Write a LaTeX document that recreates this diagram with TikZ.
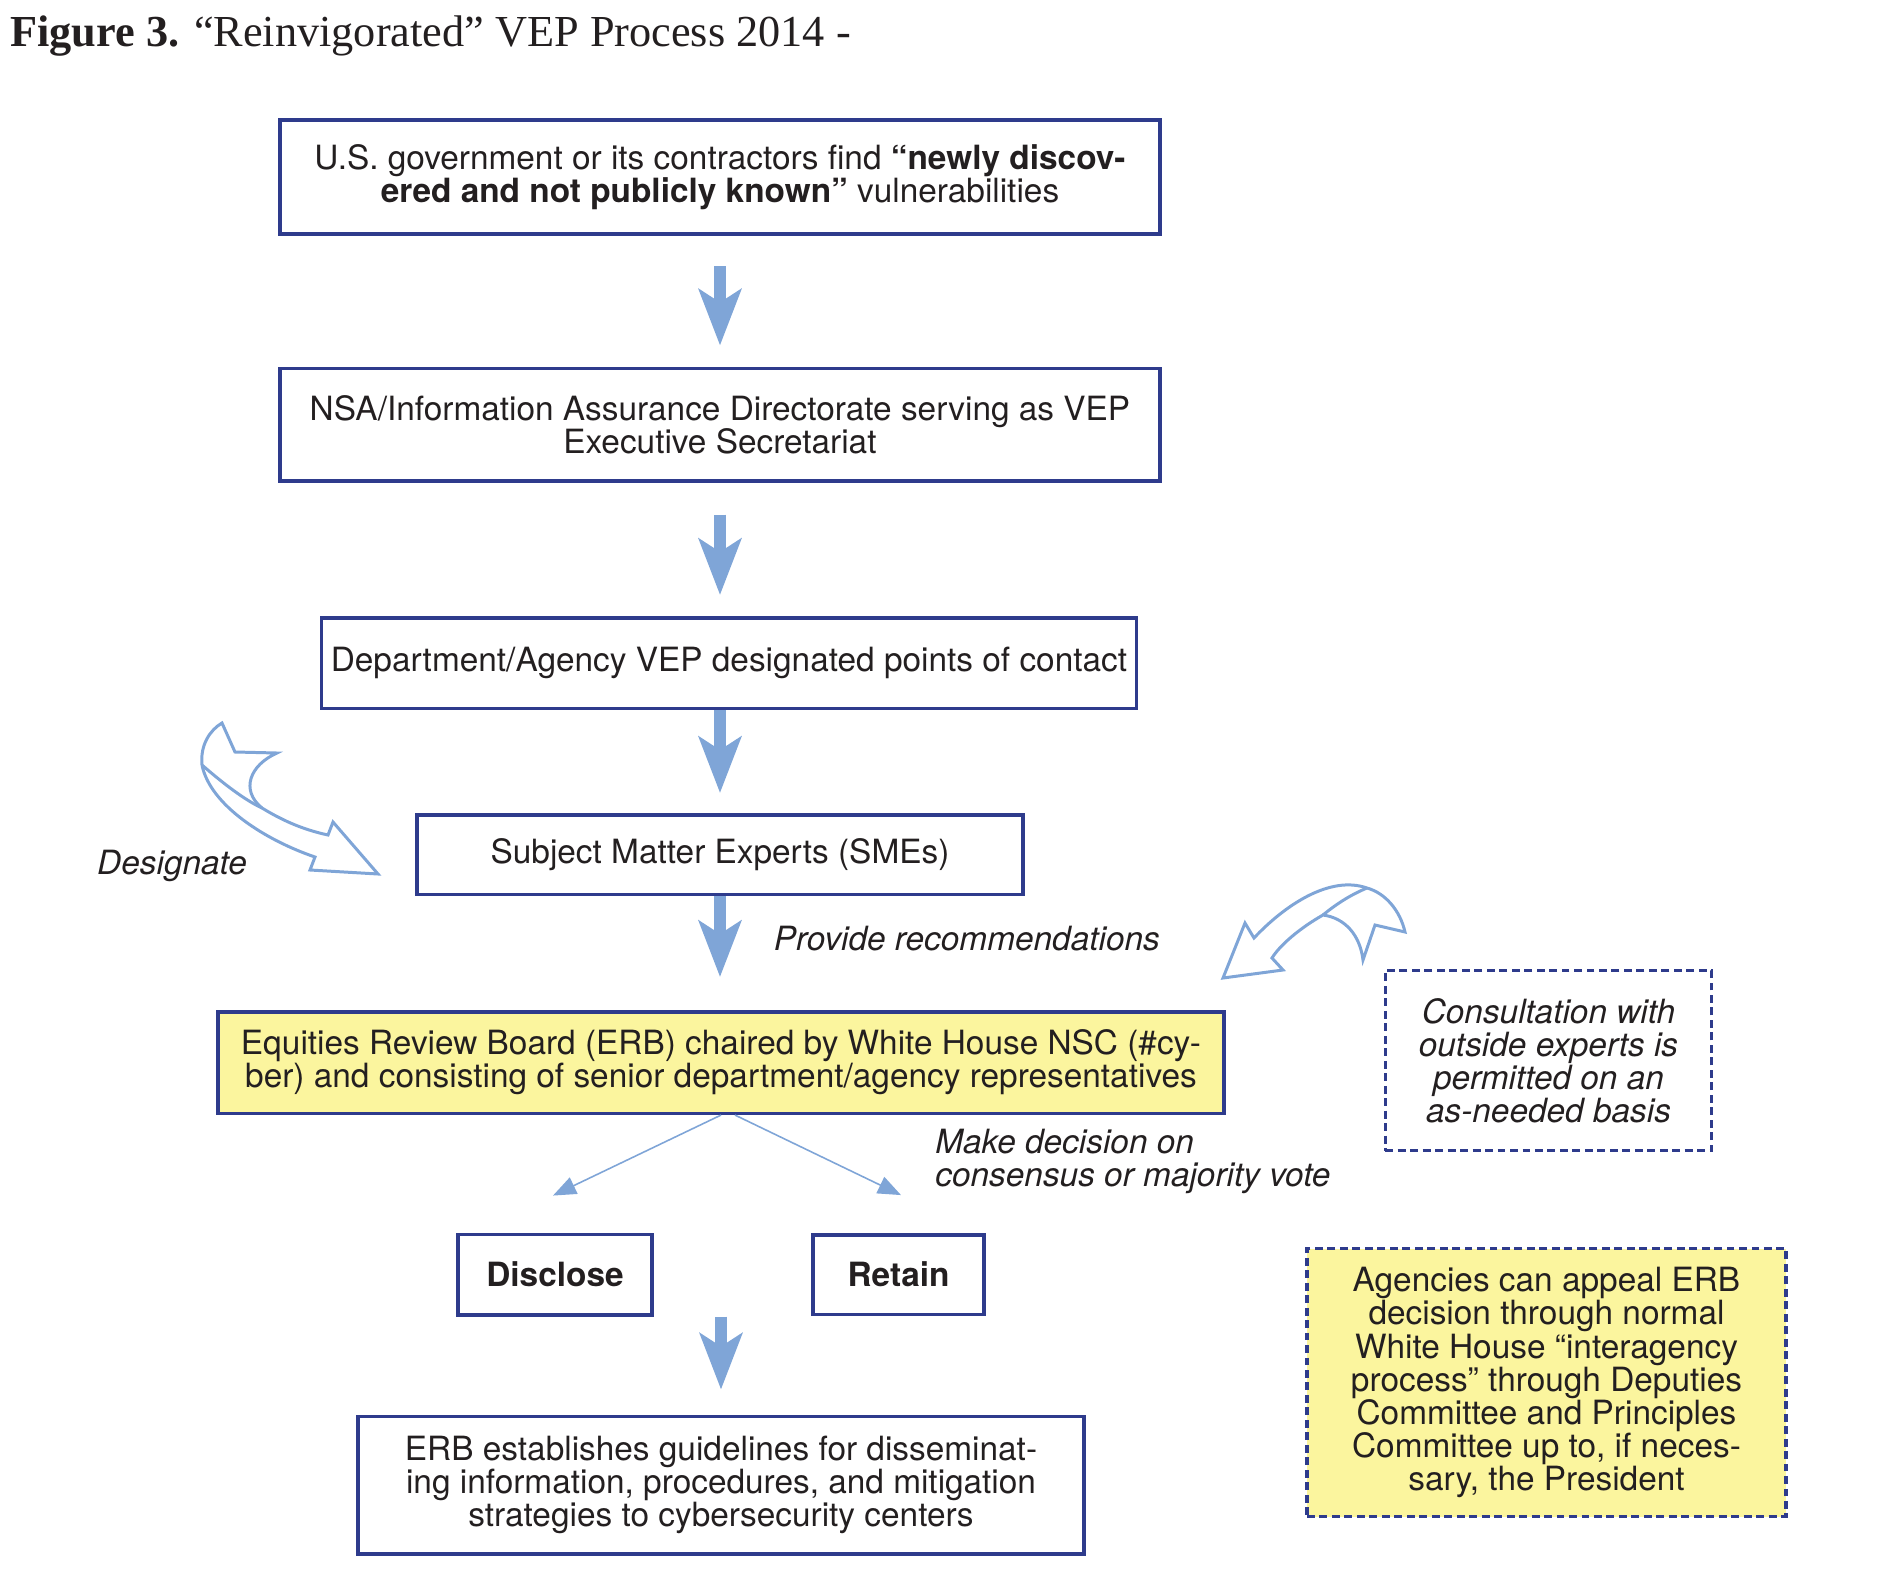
\documentclass[tikz,border=0pt]{standalone}
\usepackage{fontspec}
\setmainfont{TeX Gyre Heros}
\newfontfamily\titlefont{Liberation Serif}
\usetikzlibrary{arrows.meta, positioning}
\definecolor{vepnavy}{HTML}{2E3B8C}
\definecolor{vepblue}{HTML}{7FA5D7}
\definecolor{vepyellow}{HTML}{FBF59E}
\definecolor{veptext}{HTML}{231F20}

\begin{document}
\begin{tikzpicture}[
    every node/.style={text=veptext, font=\fontsize{19}{18.8}\selectfont},
    box/.style={draw=vepnavy, line width=2pt, inner sep=2pt, align=center},
    notebox/.style={draw=vepnavy, line width=1.9pt, dash pattern=on 4.5pt off 2.6pt, inner sep=2pt, align=center},
    bigarrow/.style={draw=vepblue, line width=0.254cm, -{Stealth[length=1.12cm, width=0.84cm, inset=0.26cm]}},
    thinarrow/.style={draw=vepblue, line width=0.9pt, -{Triangle[length=0.46cm, width=0.36cm]}},
    bentarrow/.style={draw=vepblue, line width=1.7pt, fill=white, line join=miter},
    note/.style={inner sep=0pt, font=\fontsize{19}{18.8}\selectfont\itshape}]
    \useasboundingbox (0,0) rectangle (37.6,-31.46);

    \node[anchor=base west, inner sep=0pt, font={\titlefont\fontsize{25.2}{25.2}\selectfont}] (title) at (0.2,-0.92) {\textbf{Figure 3.} “Reinvigorated” VEP Process 2014 -};

    % main chain
    \node[box, minimum width=17.6cm, minimum height=2.29cm] (find) at (14.40,-3.54) {U.S. government or its contractors find \textbf{“newly discov-}\\\textbf{ered and not publicly known”} vulnerabilities};
    \node[box, minimum width=17.6cm, minimum height=2.25cm, below=2.61cm of find] (nsa) {NSA/Information Assurance Directorate serving as VEP\\Executive Secretariat};
    \node[box, minimum width=16.3cm, minimum height=1.81cm, below=2.67cm of nsa, xshift=0.18cm] (poc) {Department/Agency VEP designated points of contact};
    \node[box, minimum width=12.12cm, minimum height=1.59cm, below=2.06cm of poc, xshift=-0.18cm] (sme) {Subject Matter Experts (SMEs)};
    \node[box, fill=vepyellow, minimum width=20.12cm, minimum height=2.03cm, below=2.28cm of sme, xshift=0.02cm] (erb) {Equities Review Board (ERB) chaired by White House NSC (\#cy-\\ber) and consisting of senior department/agency representatives};
    \node[box, minimum width=3.88cm, minimum height=1.61cm, below=2.35cm of erb, xshift=-3.32cm] (disclose) {\textbf{Disclose}};
    \node[box, minimum width=3.42cm, minimum height=1.59cm, right=3.15cm of disclose] (retain) {\textbf{Retain}};
    \node[box, minimum width=14.52cm, minimum height=2.75cm, below=1.96cm of disclose, xshift=3.32cm] (guide) {ERB establishes guidelines for disseminat-\\ing information, procedures, and mitigation\\strategies to cybersecurity centers};

    % side notes
    \node[notebox, font=\fontsize{19}{18.8}\selectfont\itshape, minimum width=6.53cm, minimum height=3.6cm] (consult) at (30.97,-21.21) {Consultation with\\outside experts is\\permitted on an\\as-needed basis};
    \node[notebox, fill=vepyellow, minimum width=9.58cm, minimum height=5.36cm] (appeal) at (30.93,-27.65) {Agencies can appeal ERB\\decision through normal\\White House “interagency\\process” through Deputies\\Committee and Principles\\Committee up to, if neces-\\sary, the President};

    \node[note, left=3.36cm of sme, yshift=-0.22cm] (designate) {Designate};
    \node[note, anchor=west, align=left] (vote) at (18.70,-23.22) {Make decision on\\consensus or majority vote};

    % arrows
    \draw[bigarrow, shorten <=0.6cm, shorten >=0.42cm] (find.south) -- (nsa.north);
    \draw[bigarrow, shorten <=0.64cm, shorten >=0.42cm] (nsa.south) -- (nsa.south |- poc.north);
    \draw[bigarrow, shorten >=0.4cm] (sme.north |- poc.south) -- (sme.north);
    \draw[bigarrow, shorten >=0.66cm] (sme.south) -- node[note, pos=0.37, right=0.95cm] (recommend) {Provide recommendations} (sme.south |- erb.north);
    \draw[bigarrow, shorten >=0.5cm] (disclose.south -| guide.north) -- (guide.north);

    \coordinate (disclose-in) at ([xshift=-0.04cm, yshift=0.74cm]disclose.north);
    \coordinate (retain-in) at ([xshift=0.05cm, yshift=0.76cm]retain.north);
    \draw[thinarrow] (erb.south) -- (disclose-in);
    \draw[thinarrow] ([xshift=0.28cm]erb.south) -- (retain-in);

    % curved arrow next to Designate
    \draw[bentarrow] (6.30,-17.14) .. controls (5.30,-16.80) and (4.20,-16.10) .. (4.04,-15.30)
        .. controls (4.00,-14.90) and (4.20,-14.60) .. (4.44,-14.46)
        -- (4.70,-15.04) -- (5.54,-15.06)
        .. controls (5.00,-15.30) and (4.80,-15.80) .. (5.24,-16.16)
        .. controls (5.70,-16.44) and (6.10,-16.60) .. (6.56,-16.70)
        -- (6.66,-16.44) -- (7.56,-17.48) -- (6.20,-17.40) -- cycle;
    \draw[draw=vepblue, line width=1.7pt] (4.04,-15.30) .. controls (4.50,-15.70) and (4.90,-16.00) .. (5.24,-16.16);

    % curved arrow above the consultation note
    \draw[bentarrow] (24.46,-19.56) -- (24.90,-18.46) -- (25.08,-18.76)
        .. controls (25.70,-18.10) and (26.60,-17.50) .. (27.34,-17.76)
        .. controls (27.70,-17.86) and (28.00,-18.20) .. (28.10,-18.64)
        -- (27.50,-18.50) -- (27.26,-19.20)
        .. controls (27.20,-18.70) and (26.90,-18.36) .. (26.46,-18.30)
        .. controls (26.00,-18.56) and (25.60,-18.90) .. (25.44,-19.16)
        -- (25.66,-19.40) -- cycle;
    \draw[draw=vepblue, line width=1.7pt] (27.34,-17.76) .. controls (27.00,-17.90) and (26.70,-18.10) .. (26.46,-18.30);
\end{tikzpicture}
\end{document}
